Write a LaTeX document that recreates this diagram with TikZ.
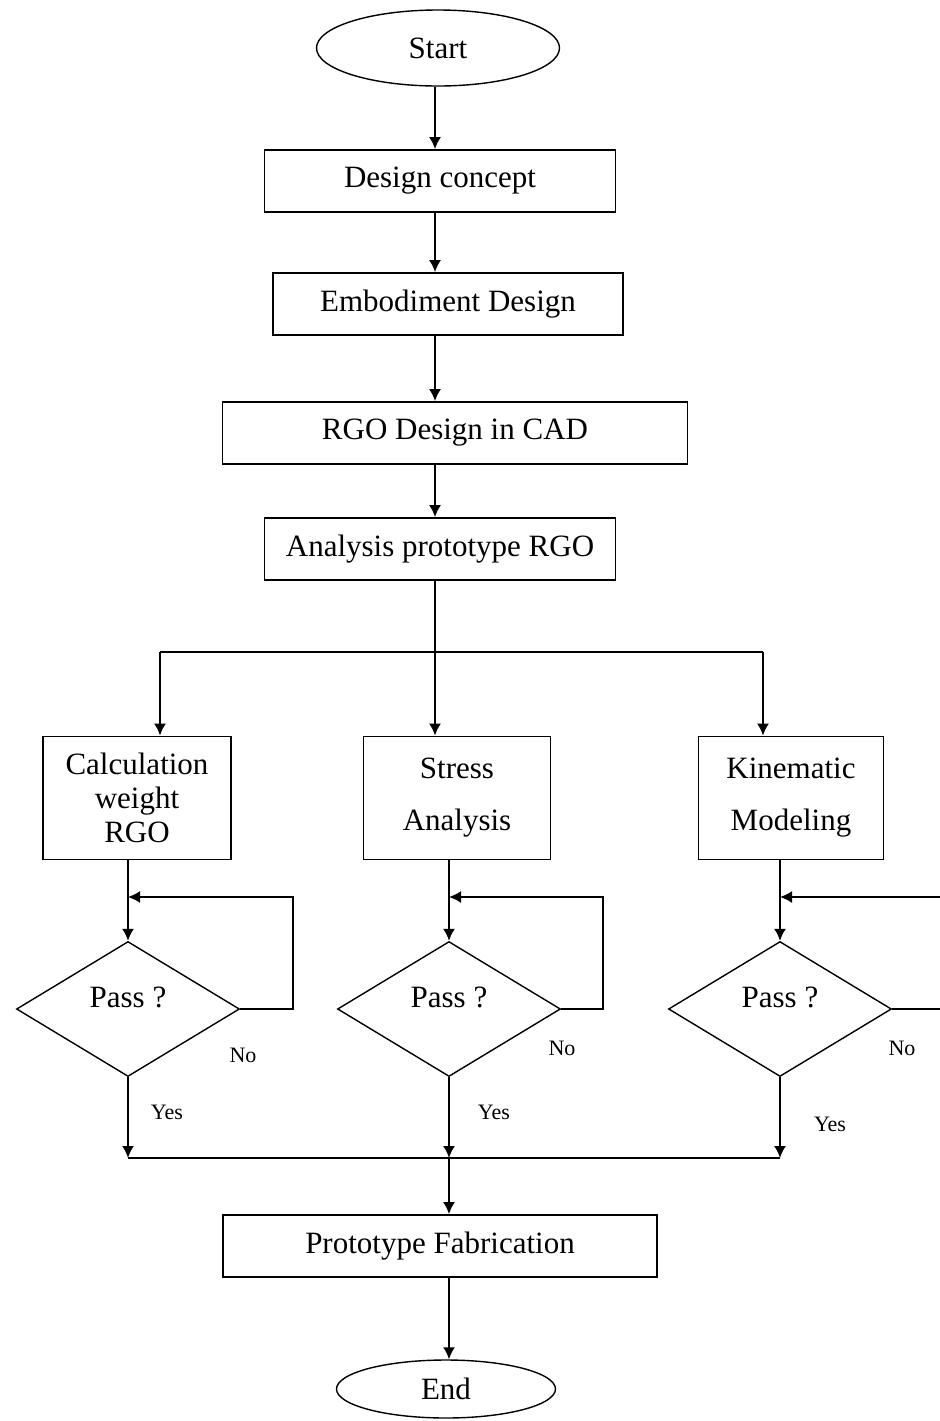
\documentclass[tikz,border=0pt]{standalone}
\usepackage{fontspec}
\setmainfont{Liberation Serif}
\usetikzlibrary{shapes.geometric,arrows.meta}
\newcommand{\flowfont}{\fontsize{15.5}{17}\selectfont}
\newcommand{\tagfont}{\fontsize{11}{13}\selectfont}
\tikzset{
  stepbox/.style={draw, line width=0.9pt, minimum height=31pt, inner sep=2pt, font=\flowfont},
  termbox/.style={draw, ellipse, line width=0.7pt, inner sep=0pt, font=\flowfont},
  passbox/.style={draw, diamond, line width=0.7pt, minimum width=111.5pt, minimum height=67.5pt, inner sep=0pt, font=\flowfont},
  tag/.style={font=\tagfont}
}
\begin{document}
\begin{tikzpicture}[x=0.5pt, y=-0.5pt, >={Latex[length=6pt,width=6pt]}, line width=0.9pt]
\useasboundingbox (0,0) rectangle (939,1421);
% main column
\node[termbox, minimum width=121.5pt, minimum height=38pt] (start) at (438,48) {Start};
\node[stepbox, minimum width=175.5pt] (design) at (440,181) {Design concept};
\node[stepbox, minimum width=175pt] (embod) at (448,304) {Embodiment Design};
\node[stepbox, minimum width=232.5pt] (cad) at (455,433) {RGO Design in CAD};
\node[stepbox, minimum width=175.5pt] (anal) at (440,549) {Analysis prototype RGO};
\coordinate (axis) at (435,0);
\draw[->] (start.south -| axis) -- (design.north -| axis);
\draw[->] (design.south -| axis) -- (embod.north -| axis);
\draw[->] (embod.south -| axis) -- (cad.north -| axis);
\draw[->] (cad.south -| axis) -- (anal.north -| axis);
% three branches
\node[stepbox, minimum width=94pt, minimum height=61.5pt, align=center] (calc) at (137,798) {Calculation\\weight\\RGO};
\node[stepbox, minimum width=93.5pt, minimum height=61.5pt, align=center] (stress) at (457,798) {Stress\\[9pt]Analysis};
\node[stepbox, minimum width=92.5pt, minimum height=61.5pt, align=center] (kine) at (791,798) {Kinematic\\[9pt]Modeling};
\coordinate (split) at (435,652);
\coordinate (lbr) at (160,652);
\coordinate (rbr) at (763,652);
\draw (anal.south -| axis) -- (split);
\draw (lbr) -- (rbr);
\draw[->] (lbr) -- (calc.north -| lbr);
\draw[->] (split) -- (stress.north -| split);
\draw[->] (rbr) -- (kine.north -| rbr);
% checks
\node[passbox] (pass1) at (128,1009) {\raisebox{12pt}{Pass ?}};
\node[passbox] (pass2) at (449,1009) {\raisebox{12pt}{Pass ?}};
\node[passbox] (pass3) at (780,1009) {\raisebox{12pt}{Pass ?}};
\draw[->] (calc.south -| pass1) -- (pass1);
\draw[->] (stress.south -| pass2) -- (pass2);
\draw[->] (kine.south -| pass3) -- (pass3);
\coordinate (in1) at (128,897);
\coordinate (in2) at (449,897);
\coordinate (in3) at (780,897);
\coordinate (out1) at (293,0);
\coordinate (out2) at (603,0);
\coordinate (out3) at (945,0);
\draw[->] (pass1.east) -- (pass1.east -| out1) |- (in1);
\draw[->] (pass2.east) -- (pass2.east -| out2) |- (in2);
\draw[->] (pass3.east) -- (pass3.east -| out3) |- (in3);
\node[tag] at (243,1055) {No};
\node[tag] at (562,1048) {No};
\node[tag] at (902,1048) {No};
% join
\coordinate (join) at (449,1158);
\draw[->] (pass1.south) -- (pass1 |- join);
\draw[->] (pass2.south) -- (join);
\draw[->] (pass3.south) -- (pass3 |- join);
\draw (pass1 |- join) -- (pass3 |- join);
\node[tag] at (167,1112) {Yes};
\node[tag] at (494,1112) {Yes};
\node[tag] at (830,1124) {Yes};
\node[stepbox, minimum width=217pt] (fab) at (440,1246) {Prototype Fabrication};
\node[termbox, minimum width=109.5pt, minimum height=29pt] (end) at (446,1389) {End};
\draw[->] (join) -- (fab.north -| join);
\draw[->] (fab.south -| join) -- (end.north -| join);
\end{tikzpicture}
\end{document}
